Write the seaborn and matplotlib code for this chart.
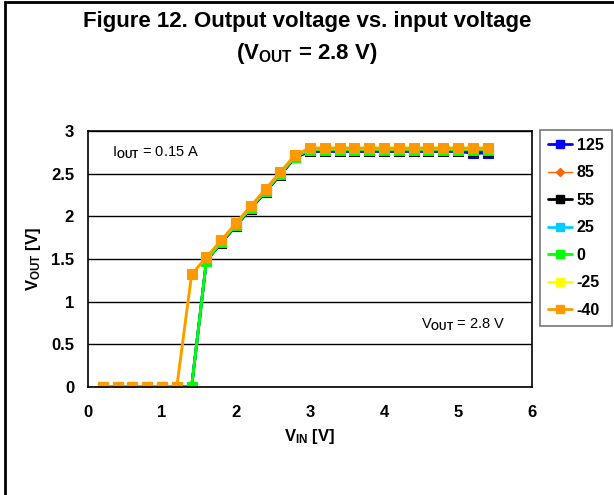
import pandas as pd
import seaborn as sns
import matplotlib.pyplot as plt
from matplotlib.lines import Line2D
from matplotlib.patches import Rectangle

# data
vin = [round(0.2 * i, 1) for i in range(1, 28)]  # 0.2 .. 5.4 V
temps = ["125", "85", "55", "25", "0", "-25", "-40"]

ramp_cold = [1.32, 1.52, 1.72, 1.92, 2.12, 2.32, 2.52, 2.72]
ramp_warm = [1.48, 1.69, 1.89, 2.09, 2.29, 2.49, 2.69]

v125 = [0] * 7 + ramp_warm + [2.76] * 11 + [2.74, 2.74]
v85 = [0] * 7 + [1.48, 1.70, 1.90, 2.10, 2.30, 2.50, 2.70] + [2.78] * 13
v55 = [0] * 7 + ramp_warm + [2.77] * 13
v25 = [0] * 7 + [1.48, 1.70, 1.90, 2.10, 2.30, 2.50, 2.70] + [2.78] * 13
v0 = [0] * 7 + [1.48, 1.70, 1.90, 2.10, 2.30, 2.50, 2.70] + [2.78] * 13
vm25 = [0] * 6 + ramp_cold + [2.80] * 13
vm40 = [0] * 6 + ramp_cold + [2.80] * 13

series = [v125, v85, v55, v25, v0, vm25, vm40]
colors = ["#0000FF", "#FF6600", "#000000", "#00CCFF", "#00FF00", "#FFFF00", "#FF9900"]
markers = ["s", "D", "s", "s", "s", "s", "s"]

df = pd.DataFrame({
    "vin": vin * len(temps),
    "vout": sum(series, []),
    "temp": [t for t in temps for _ in vin],
})

sns.set_style("white")
plt.rcParams['font.family'] = ['Liberation Sans', 'DejaVu Sans']
plt.rcParams['font.weight'] = 'bold'
plt.rcParams['text.color'] = 'black'
plt.rcParams['axes.labelcolor'] = 'black'
plt.rcParams['xtick.color'] = 'black'
plt.rcParams['ytick.color'] = 'black'
plt.rcParams['mathtext.fontset'] = 'custom'
plt.rcParams['mathtext.rm'] = 'Liberation Sans:bold'
plt.rcParams['mathtext.bf'] = 'Liberation Sans:bold'
plt.rcParams['mathtext.it'] = 'Liberation Sans:bold'

fig = plt.figure(figsize=(6.14, 4.95), dpi=100)
ax = fig.add_axes([88 / 614, 1 - 387 / 495, 444 / 614, 256 / 495])

for t, c, m in zip(temps, colors, markers):
    sub = df[df.temp == t]
    lw = 1.0 if t == "85" else 2.0
    ms = 5 if t == "85" else 7
    sns.lineplot(data=sub, x="vin", y="vout", color=c, marker=m, markersize=ms,
                 markeredgecolor=c, linewidth=lw, ax=ax, label=t, legend=False)

ax.set_xlim(0, 6)
ax.set_ylim(0, 3)
ax.set_xticks(range(0, 7))
ax.set_yticks([0, 0.5, 1, 1.5, 2, 2.5, 3])
ax.set_yticklabels(["0", "0.5", "1", "1.5", "2", "2.5", "3"])
ax.yaxis.grid(True, color="black", linewidth=1)
ax.set_axisbelow(True)
for s in ax.spines.values():
    s.set_color("black")
    s.set_linewidth(1.2)
ax.tick_params(axis="both", direction="out", length=5, width=1, color="black",
               labelsize=12, pad=5)
ax.tick_params(axis="x", pad=8)
for lab in ax.get_xticklabels() + ax.get_yticklabels():
    lab.set_fontweight("bold")

ax.set_xlabel(r"V$_{\mathbf{IN}}$ [V]", fontsize=12, fontweight="bold", labelpad=5)
ax.set_ylabel(r"V$_{\mathbf{OUT}}$ [V]", fontsize=12, fontweight="bold", labelpad=6)

plt.rcParams['mathtext.rm'] = 'Liberation Sans'
ax.text(0.32, 2.75, r"I$_{\mathrm{OUT}}$ = 0.15 A", fontsize=10.5, fontweight="normal",
        va="center")
ax.text(4.5, 0.73, r"V$_{\mathrm{OUT}}$ = 2.8 V", fontsize=10.5, fontweight="normal",
        va="center")

handles = [Line2D([], [], color=c, marker=m, markersize=(4.5 if t == "85" else 6),
                  linewidth=(1.0 if t == "85" else 2.0)) for t, c, m in zip(temps, colors, markers)]
leg = fig.legend(handles, temps, loc="upper left",
                 bbox_to_anchor=(540 / 614, 1 - 130 / 495), frameon=True,
                 fancybox=False, edgecolor="#555555", fontsize=11.5,
                 handlelength=1.5, labelspacing=0.78, borderpad=0.5,
                 handletextpad=0.3, borderaxespad=0)
leg.get_frame().set_linewidth(1.2)
for txt in leg.get_texts():
    txt.set_fontweight("bold")

fig.text(0.5, 1 - 21 / 495, "Figure 12. Output voltage vs. input voltage",
         ha="center", va="center", fontsize=16, fontweight="bold")
fig.text(0.5, 1 - 53 / 495, r"(V$_{\mathbf{OUT}}$ = 2.8 V)",
         ha="center", va="center", fontsize=16, fontweight="bold")

fig.add_artist(Rectangle((5 / 614, -0.1), 1.2, 1 - 2 / 495 + 0.1, transform=fig.transFigure,
                         fill=False, edgecolor="black", linewidth=2, clip_on=False))

fig.savefig("out.png", dpi=100)
